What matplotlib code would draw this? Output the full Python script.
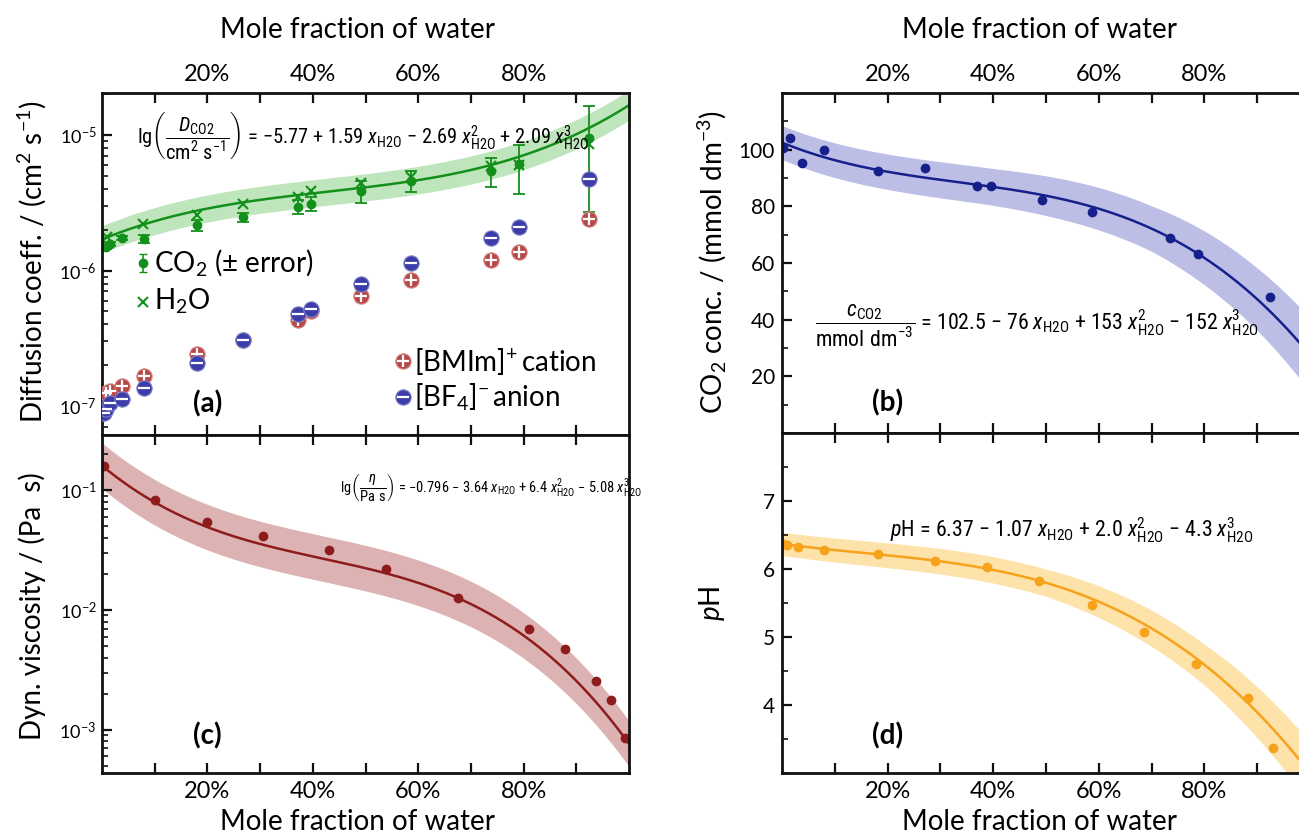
import numpy as np
import matplotlib
matplotlib.use("Agg")
import matplotlib.pyplot as plt
from matplotlib import font_manager
from matplotlib.ticker import FixedLocator, FuncFormatter, LogLocator, NullFormatter, MultipleLocator

_names = {f.name for f in font_manager.fontManager.ttflist}
NARROW = 'Liberation Sans Narrow' if 'Liberation Sans Narrow' in _names else (
    'Roboto Condensed' if 'Roboto Condensed' in _names else 'Liberation Sans')

plt.rcParams['font.family'] = ['Lato', 'DejaVu Sans']
plt.rcParams['mathtext.default'] = 'regular'
plt.rcParams['mathtext.fontset'] = 'custom'
plt.rcParams['mathtext.rm'] = 'Lato'
plt.rcParams['mathtext.it'] = 'Lato:italic'
plt.rcParams['mathtext.sf'] = NARROW
plt.rcParams['mathtext.tt'] = NARROW + ':italic'

# ---------------- data ----------------
# panel (a): diffusion coefficients (cm^2/s)
co2_x = [0.008, 0.015, 0.038, 0.079, 0.181, 0.268, 0.372, 0.397, 0.492, 0.587, 0.739, 0.791, 0.925]
co2_D = [1.50e-6, 1.56e-6, 1.75e-6, 1.71e-6, 2.17e-6, 2.47e-6, 2.95e-6, 3.10e-6, 3.86e-6, 4.61e-6, 5.44e-6, 6.10e-6, 9.5e-6]
co2_err = [0.05e-6, 0.05e-6, 0.06e-6, 0.12e-6, 0.2e-6, 0.2e-6, 0.35e-6, 0.37e-6, 0.7e-6, 0.8e-6, 1.3e-6, 2.4e-6, 6.8e-6]
h2o_x = [0.010, 0.077, 0.180, 0.268, 0.372, 0.397, 0.492, 0.587, 0.739, 0.791, 0.925]
h2o_D = [1.78e-6, 2.22e-6, 2.58e-6, 3.08e-6, 3.47e-6, 3.86e-6, 4.40e-6, 4.90e-6, 5.93e-6, 6.0e-6, 8.6e-6]
cat_x = [0.008, 0.015, 0.038, 0.079, 0.181, 0.268, 0.372, 0.397, 0.492, 0.587, 0.739, 0.791, 0.925]
cat_D = [1.25e-7, 1.30e-7, 1.40e-7, 1.67e-7, 2.43e-7, 3.08e-7, 4.33e-7, 5.0e-7, 6.47e-7, 8.47e-7, 1.20e-6, 1.38e-6, 2.40e-6]
an_x = [0.004, 0.008, 0.015, 0.038, 0.079, 0.181, 0.268, 0.372, 0.397, 0.492, 0.587, 0.739, 0.791, 0.925]
an_D = [0.89e-7, 0.95e-7, 1.05e-7, 1.12e-7, 1.36e-7, 2.09e-7, 3.08e-7, 4.75e-7, 5.16e-7, 7.89e-7, 1.13e-6, 1.75e-6, 2.10e-6, 4.70e-6]
fitD = [-5.77, 1.59, -2.69, 2.09]
bandD_x = [0.0, 0.5, 1.0]
bandD_hw = [0.10, 0.10, 0.11]   # decades

# panel (b): CO2 concentration (mmol/dm3)
cc_x = [0.002, 0.015, 0.038, 0.080, 0.182, 0.271, 0.369, 0.396, 0.492, 0.587, 0.735, 0.788, 0.924]
cc_y = [100.6, 104.1, 95.3, 99.9, 92.5, 93.6, 87.2, 87.2, 82.3, 78.1, 68.9, 63.3, 48.1]
fitC = [102.5, -76, 153, -152]
bandC_x = [0.0, 0.4, 0.7, 0.9, 1.0]
bandC_hw = [6.0, 6.5, 8.0, 11.0, 13.0]

# panel (c): dynamic viscosity (Pa s)
vis_x = [0.004, 0.10, 0.199, 0.305, 0.431, 0.539, 0.675, 0.81, 0.879, 0.937, 0.966, 0.992]
vis_y = [0.158, 0.0826, 0.054, 0.0414, 0.0316, 0.022, 0.0126, 6.95e-3, 4.73e-3, 2.57e-3, 1.78e-3, 8.6e-4]
fitV = [-0.796, -3.64, 6.4, -5.08]
bandV_x = [0.0, 1.0]
bandV_hw = [0.19, 0.19]

# panel (d): pH
ph_x = [0.002, 0.010, 0.030, 0.080, 0.182, 0.289, 0.389, 0.487, 0.587, 0.685, 0.784, 0.883, 0.930]
ph_y = [6.37, 6.35, 6.33, 6.28, 6.22, 6.12, 6.03, 5.83, 5.47, 5.08, 4.60, 4.10, 3.37]
fitP = [6.37, -1.07, 2.0, -4.3]
bandP_x = [0.0, 0.5, 0.8, 1.0]
bandP_hw = [0.17, 0.20, 0.30, 0.45]

# ---------------- figure ----------------
W, H = 1299, 836
fig = plt.figure(figsize=(W / 100, H / 100), dpi=100)

def ax_px(x0, y0, x1, y1):
    return fig.add_axes([x0 / W, 1 - y1 / H, (x1 - x0) / W, (y1 - y0) / H])

axA = ax_px(102, 93, 629, 435)
axC = ax_px(102, 435, 629, 773)
axB = ax_px(782, 93, 1310, 433)
axD = ax_px(782, 433, 1310, 773)

xs = np.linspace(0, 1, 300)
def poly(c, x):
    return c[0] + c[1] * x + c[2] * x ** 2 + c[3] * x ** 3

GREEN = '#13901a'
GREEN_B = '#bfe5bd'
NAVY = '#16208a'
BLUE_B = '#bcbee6'
DRED = '#8e1c1c'
RED_B = '#dcb2b2'
ORANGE = '#f7a21b'
ORANGE_B = '#fde2aa'
CAT = '#b84848'
AN = '#3b3ea8'

for ax in (axA, axB, axC, axD):
    ax.set_xlim(0, 1)
    for s in ax.spines.values():
        s.set_linewidth(2.0)
        s.set_color('#111111')
    ax.xaxis.set_major_locator(FixedLocator([0.2, 0.4, 0.6, 0.8]))
    ax.xaxis.set_minor_locator(FixedLocator([0.1, 0.3, 0.5, 0.7, 0.9]))
    ax.xaxis.set_major_formatter(FuncFormatter(lambda v, p: f"{int(round(v*100))}%"))
    ax.tick_params(axis='x', which='both', direction='in', top=True, bottom=True,
                   length=7, width=1.6, labelsize=17, color='#111111')
    ax.tick_params(axis='y', which='major', direction='in', length=7, width=1.6, color='#111111')
    ax.tick_params(axis='y', which='minor', direction='in', length=4, width=1.2, color='#111111')

for ax in (axA, axB):
    ax.tick_params(axis='x', labeltop=True, labelbottom=False, pad=6)
for ax in (axC, axD):
    ax.tick_params(axis='x', labeltop=False, labelbottom=True, pad=6)

def xh(p=''):
    s = r'\mathtt{x}'
    if p:
        return s + r'^{\mathsf{' + p + r'}}_{\mathsf{H2O}}'
    return s + r'_{\mathsf{H2O}}'

eq_texts = []
def equation(ax, x, y, s, target_w, fs0=14):
    t = ax.text(x, y, s, transform=ax.transAxes, fontsize=fs0, va='center', ha='left',
                family=[NARROW, 'DejaVu Sans'])
    eq_texts.append((t, target_w, fs0))
    return t

# ---- panel (a)
axA.set_yscale('log')
axA.set_ylim(10 ** -7.214, 10 ** -4.69)
lf = np.array(poly(fitD, xs))
hw = np.interp(xs, bandD_x, bandD_hw)
axA.fill_between(xs, 10 ** (lf - hw), 10 ** (lf + hw), color=GREEN_B, lw=0)
axA.plot(xs, 10 ** lf, color=GREEN, lw=1.8)
axA.errorbar(co2_x, co2_D, yerr=co2_err, fmt='o', color=GREEN, ms=6, capsize=4, elinewidth=1.3, capthick=1.3)
axA.plot(h2o_x, h2o_D, 'x', color=GREEN, ms=7, mew=1.5)
axA.plot(cat_x, cat_D, 'o', color=CAT, ms=11, mec='#d88888', mew=0.8, zorder=3)
axA.plot(cat_x, cat_D, '+', color='white', ms=8, mew=1.6, zorder=4)
axA.plot(an_x, an_D, 'o', color=AN, ms=11, mec='#8080c8', mew=0.8, zorder=5)
axA.plot(an_x, an_D, '_', color='white', ms=8, mew=1.6, zorder=6)
axA.yaxis.set_major_locator(LogLocator(base=10, numticks=10))
axA.yaxis.set_minor_locator(LogLocator(base=10, subs=np.arange(2, 10), numticks=20))
axA.yaxis.set_minor_formatter(NullFormatter())
axA.tick_params(axis='y', labelsize=13, pad=4)

tA = axA.transAxes
axA.errorbar([0.078], [0.503], yerr=[[0.025], [0.025]], fmt='o', color=GREEN, ms=6, capsize=3,
             elinewidth=1.2, transform=tA, clip_on=False)
axA.text(0.098, 0.503, r'CO$_2$ ($\pm$ error)', transform=tA, fontsize=20, va='center', ha='left')
axA.plot([0.078], [0.39], 'x', color=GREEN, ms=7, mew=1.5, transform=tA)
axA.text(0.098, 0.39, r'H$_2$O', transform=tA, fontsize=20, va='center', ha='left')
axA.plot([0.571], [0.215], 'o', color=CAT, ms=11, mec='#d88888', mew=0.8, transform=tA)
axA.plot([0.571], [0.215], '+', color='white', ms=8, mew=1.6, transform=tA)
axA.text(0.592, 0.215, '[BMIm]$^{+}$\u2009cation', transform=tA, fontsize=20, va='center', ha='left')
axA.plot([0.571], [0.11], 'o', color=AN, ms=11, mec='#8080c8', mew=0.8, transform=tA)
axA.plot([0.571], [0.11], '_', color='white', ms=8, mew=1.6, transform=tA)
axA.text(0.592, 0.11, '[BF$_4$]$^{-}$\u2009anion', transform=tA, fontsize=20, va='center', ha='left')
axA.text(0.20, 0.09, '(a)', transform=tA, fontsize=20, fontweight='bold', va='center', ha='center')
equation(axA, 0.066, 0.875,
         r'lg$\left(\dfrac{\mathtt{D}_{\mathsf{CO2}}}{\mathsf{cm^2\ s^{-1}}}\right)$ = −5.77 + 1.59 $' + xh()
         + r'$ − 2.69 $' + xh('2') + r'$ + 2.09 $' + xh('3') + '$', 453, 16)

# ---- panel (c)
axC.set_yscale('log')
axC.set_ylim(10 ** -3.36, 10 ** -0.54)
lv = np.array(poly(fitV, xs))
hv = np.interp(xs, bandV_x, bandV_hw)
axC.fill_between(xs, 10 ** (lv - hv), 10 ** (lv + hv), color=RED_B, lw=0)
axC.plot(xs, 10 ** lv, color=DRED, lw=1.8)
axC.plot(vis_x, vis_y, 'o', color=DRED, ms=6)
axC.yaxis.set_major_locator(LogLocator(base=10, numticks=10))
axC.yaxis.set_minor_locator(LogLocator(base=10, subs=np.arange(2, 10), numticks=20))
axC.yaxis.set_minor_formatter(NullFormatter())
axC.tick_params(axis='y', labelsize=13, pad=4)
tC = axC.transAxes
axC.text(0.20, 0.11, '(c)', transform=tC, fontsize=20, fontweight='bold', va='center', ha='center')
equation(axC, 0.452, 0.845,
         r'lg$\left(\dfrac{\mathtt{η}}{\mathsf{Pa\ s}}\right)$ = −0.796 − 3.64 $' + xh()
         + r'$ + 6.4 $' + xh('2') + r'$ − 5.08 $' + xh('3') + '$', 300, 13)

# ---- panel (b)
axB.set_ylim(0, 120)
lc = np.array(poly(fitC, xs))
hc = np.interp(xs, bandC_x, bandC_hw)
axB.fill_between(xs, lc - hc, lc + hc, color=BLUE_B, lw=0)
axB.plot(xs, lc, color=NAVY, lw=1.8)
axB.plot(cc_x, cc_y, 'o', color=NAVY, ms=6)
axB.yaxis.set_major_locator(FixedLocator([20, 40, 60, 80, 100]))
axB.yaxis.set_minor_locator(MultipleLocator(10))
axB.tick_params(axis='y', labelsize=15, pad=5)
tB = axB.transAxes
axB.text(0.20, 0.09, '(b)', transform=tB, fontsize=20, fontweight='bold', va='center', ha='center')
equation(axB, 0.063, 0.315,
         r'$\dfrac{\mathtt{c}_{\mathsf{CO2}}}{\mathsf{mmol\ dm^{-3}}}$ = 102.5 − 76 $' + xh()
         + r'$ + 153 $' + xh('2') + r'$ − 152 $' + xh('3') + '$', 445, 14)

# ---- panel (d)
axD.set_ylim(3, 8)
lp = np.array(poly(fitP, xs))
hp = np.interp(xs, bandP_x, bandP_hw)
axD.fill_between(xs, lp - hp, lp + hp, color=ORANGE_B, lw=0)
axD.plot(xs, lp, color=ORANGE, lw=1.8)
axD.plot(ph_x, ph_y, 'o', color=ORANGE, ms=6)
axD.yaxis.set_major_locator(FixedLocator([4, 5, 6, 7]))
axD.yaxis.set_minor_locator(MultipleLocator(0.5))
axD.tick_params(axis='y', labelsize=15, pad=5)
tD = axD.transAxes
axD.text(0.20, 0.11, '(d)', transform=tD, fontsize=20, fontweight='bold', va='center', ha='center')
equation(axD, 0.205, 0.715,
         r'$\mathtt{p}$H = 6.37 − 1.07 $' + xh() + r'$ + 2.0 $' + xh('2') + r'$ − 4.3 $' + xh('3') + '$',
         365, 14)

# ---- axis labels
def ftext(x, y, s, **kw):
    fig.text(x / W, 1 - y / H, s, **kw)

ftext(357, 30, 'Mole fraction of water', fontsize=20, ha='center', va='center')
ftext(1040, 30, 'Mole fraction of water', fontsize=20, ha='center', va='center')
ftext(357, 822, 'Mole fraction of water', fontsize=20, ha='center', va='center')
ftext(1040, 822, 'Mole fraction of water', fontsize=20, ha='center', va='center')
ftext(32, 262, r'Diffusion coeff. / (cm$^2$ s$^{-1}$)', fontsize=20, rotation=90, ha='center', va='center')
ftext(32, 606, r'Dyn. viscosity / (Pa  s)', fontsize=20, rotation=90, ha='center', va='center')
ftext(712, 262, r'CO$_2$ conc. / (mmol dm$^{-3}$)', fontsize=20, rotation=90, ha='center', va='center')
ftext(712, 603, r'$\mathit{p}$H', fontsize=20, rotation=90, ha='center', va='center')

# scale equation font sizes to their widths in the reference
fig.canvas.draw()
r = fig.canvas.get_renderer()
for t, tw, fs0 in eq_texts:
    w = t.get_window_extent(r).width
    if w > 0:
        t.set_fontsize(fs0 * tw / w)

fig.savefig('out.png', dpi=100)
